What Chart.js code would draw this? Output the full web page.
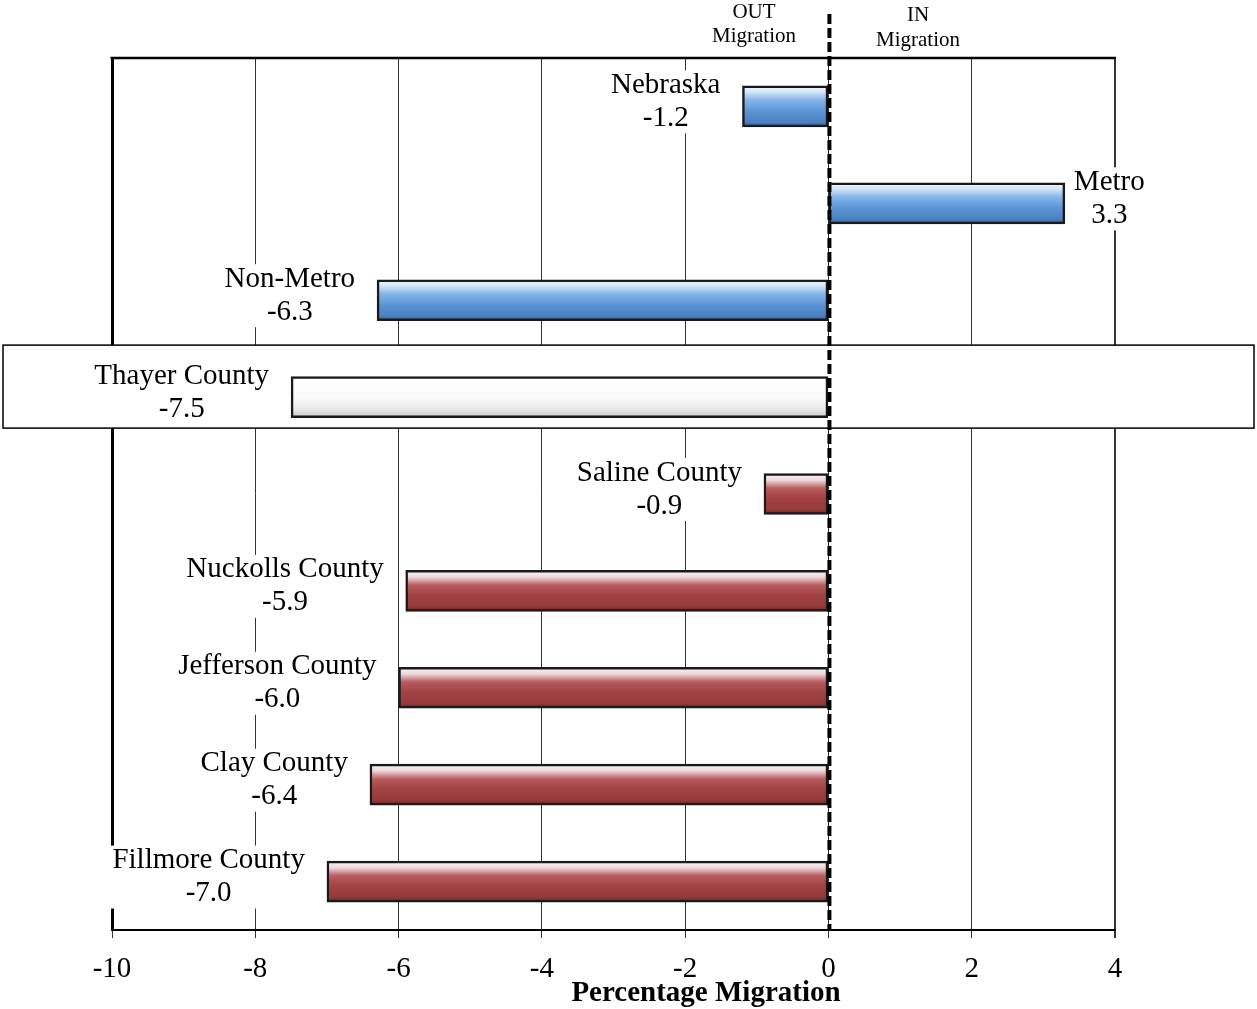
<!DOCTYPE html>
<html>
<head>
<meta charset="utf-8">
<title>Percentage Migration</title>
<script src="https://cdn.jsdelivr.net/npm/chart.js@4.4.1/dist/chart.umd.min.js"></script>
<style>
    html, body { margin: 0; padding: 0; background: #fff; }
    #chart { display: block; }
</style>
</head>
<body>
<canvas id="chart" width="1257" height="1009"></canvas>
<script>
const categories = ["Nebraska", "Metro", "Non-Metro", "Thayer County", "Saline County",
    "Nuckolls County", "Jefferson County", "Clay County", "Fillmore County"];
const migration = [-1.2, 3.3, -6.3, -7.5, -0.9, -5.9, -6.0, -6.4, -7.0];
const areaGroup = ["state", "state", "state", "focus", "neighbor", "neighbor", "neighbor", "neighbor", "neighbor"];
const xTicks = [-10, -8, -6, -4, -2, 0, 2, 4];
const axisTitle = "Percentage Migration";
const outLabel = ["OUT", "Migration"];
const inLabel = ["IN", "Migration"];

const SERIF = "'Liberation Serif', 'Times New Roman', serif";
const BAR_H = 41;

const gradientStops = {
    state: [[0, "#f2f8fe"], [0.14, "#d6e8f9"], [0.34, "#86b6ea"], [0.6, "#5d97d7"], [0.88, "#4b80c1"], [1, "#38608f"]],
    neighbor: [[0, "#faf6f8"], [0.16, "#efd8dd"], [0.36, "#b95c5e"], [0.6, "#a24243"], [0.88, "#953a3b"], [1, "#682222"]],
    focus: [[0, "#ffffff"], [0.5, "#fbfbfb"], [0.85, "#e4e4e4"], [1, "#c2c2c2"]],
};

function barFill(ctx) {
    const chart = ctx.chart;
    const yScale = chart.scales.y;
    if (!yScale || ctx.dataIndex === undefined) return "#888";
    const yc = yScale.getPixelForValue(ctx.dataIndex);
    if (!Number.isFinite(yc)) return "#888";
    const g = chart.ctx.createLinearGradient(0, yc - BAR_H / 2, 0, yc + BAR_H / 2);
    gradientStops[areaGroup[ctx.dataIndex]].forEach(([p, c]) => g.addColorStop(p, c));
    return g;
}

const decorPlugin = {
    id: "decor",
    beforeDatasetsDraw(chart) {
        const { ctx, chartArea, scales } = chart;
        // top border of plot
        ctx.save();
        ctx.strokeStyle = "#000";
        ctx.lineWidth = 2.5;
        ctx.beginPath();
        ctx.moveTo(chartArea.left - 1.5, chartArea.top);
        ctx.lineTo(chartArea.right + 1, chartArea.top);
        ctx.stroke();

        // highlight box for Thayer County
        const yc = scales.y.getPixelForValue(categories.indexOf("Thayer County"));
        const top = yc - 52, bottom = yc + 31;
        ctx.fillStyle = "#fff";
        ctx.fillRect(3, top, 1251, bottom - top);
        ctx.lineWidth = 1.5;
        ctx.strokeRect(3, top, 1251, bottom - top);
        ctx.restore();
    },
    afterDatasetsDraw(chart) {
        const { ctx, chartArea, scales } = chart;
        const x0 = scales.x.getPixelForValue(0);
        ctx.save();

        // dashed zero line
        ctx.strokeStyle = "#000";
        ctx.lineWidth = 4;
        ctx.setLineDash([10, 4]);
        ctx.beginPath();
        ctx.moveTo(x0 + 1, 14);
        ctx.lineTo(x0 + 1, chartArea.bottom);
        ctx.stroke();
        ctx.setLineDash([]);

        // bar labels
        ctx.font = "29px " + SERIF;
        ctx.textAlign = "center";
        ctx.textBaseline = "middle";
        categories.forEach((name, i) => {
            const v = migration[i];
            const lines = [name, v.toFixed(1)];
            const w = Math.max(...lines.map((t) => ctx.measureText(t).width));
            const xe = scales.x.getPixelForValue(v);
            const yc = scales.y.getPixelForValue(i);
            const cx = v < 0 ? xe - 22 - w / 2 : xe + 9 + w / 2;
            const y1 = yc - 21, y2 = yc + 12;
            ctx.fillStyle = "#fff";
            ctx.fillRect(cx - w / 2 - 4, y1 - 15, w + 8, y2 - y1 + 30);
            ctx.fillStyle = "#000";
            ctx.fillText(lines[0], cx, y1);
            ctx.fillText(lines[1], cx, y2);
        });

        // OUT / IN header
        ctx.font = "21px " + SERIF;
        ctx.fillText(outLabel[0], 754, 12);
        ctx.fillText(outLabel[1], 754, 36);
        ctx.fillText(inLabel[0], 918, 15);
        ctx.fillText(inLabel[1], 918, 40);

        // axis title
        ctx.font = "bold 29px " + SERIF;
        ctx.fillText(axisTitle, 706, 994);
        ctx.restore();
    },
};

new Chart(document.getElementById("chart"), {
    type: "bar",
    data: {
        labels: categories,
        datasets: [{
            data: migration,
            backgroundColor: barFill,
            borderColor: "#1a1a1a",
            borderWidth: 2.5,
            borderSkipped: false,
            barThickness: BAR_H,
        }],
    },
    options: {
        indexAxis: "y",
        responsive: false,
        animation: false,
        layout: { padding: { top: 58, left: 112, right: 142, bottom: 0 } },
        plugins: {
            legend: { display: false },
            tooltip: { enabled: false },
        },
        scales: {
            x: {
                min: -10,
                max: 4,
                afterFit(scale) { scale.height = 79; },
                afterBuildTicks(scale) { scale.ticks = xTicks.map((value) => ({ value })); },
                ticks: {
                    color: "#000",
                    padding: 14,
                    font: { family: SERIF, size: 29 },
                    maxRotation: 0,
                },
                grid: {
                    color: "#333",
                    lineWidth: (c) => (c.tick && c.tick.value === 4 ? 2 : 1),
                    tickLength: 8,
                    drawOnChartArea: true,
                },
                border: { display: true, color: "#000", width: 2 },
            },
            y: {
                afterFit(scale) { scale.width = 0; },
                ticks: { display: false },
                grid: { display: false },
                border: { display: true, color: "#000", width: 3 },
            },
        },
    },
    plugins: [decorPlugin],
});
</script>
</body>
</html>
